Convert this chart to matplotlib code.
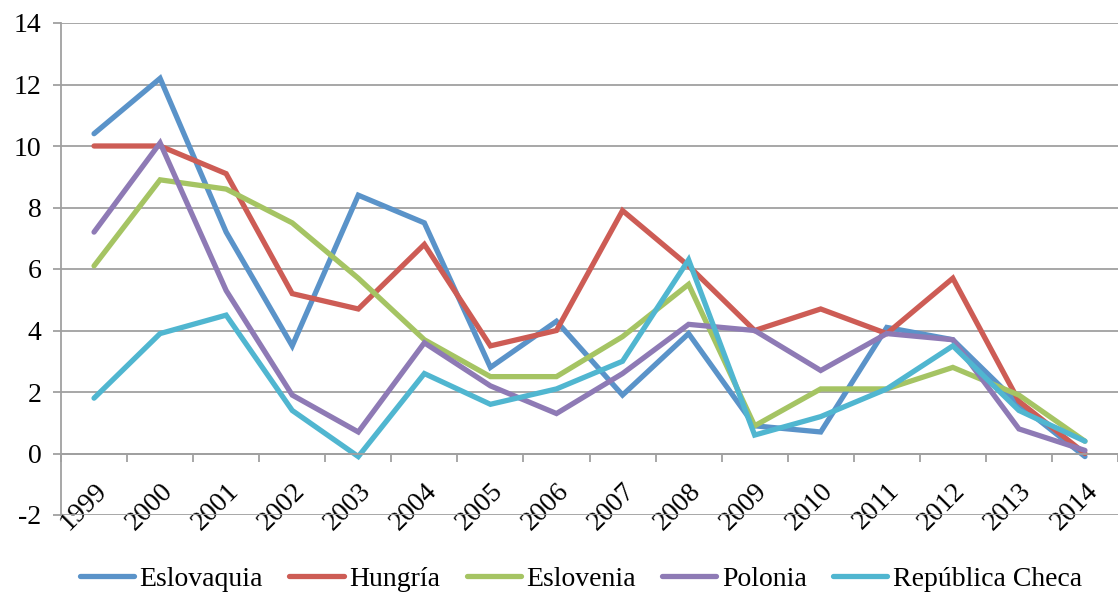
import numpy as np
import matplotlib.pyplot as plt

years = ['1999', '2000', '2001', '2002', '2003', '2004', '2005', '2006',
         '2007', '2008', '2009', '2010', '2011', '2012', '2013', '2014']

# valores
eslovaquia = [10.4, 12.2, 7.2, 3.5, 8.4, 7.5, 2.8, 4.3, 1.9, 3.9, 0.9, 0.7, 4.1, 3.7, 1.6, -0.1]
hungria = [10.0, 10.0, 9.1, 5.2, 4.7, 6.8, 3.5, 4.0, 7.9, 6.1, 4.0, 4.7, 3.9, 5.7, 1.7, 0.0]
eslovenia = [6.1, 8.9, 8.6, 7.5, 5.7, 3.7, 2.5, 2.5, 3.8, 5.5, 0.9, 2.1, 2.1, 2.8, 1.9, 0.4]
polonia = [7.2, 10.1, 5.3, 1.9, 0.7, 3.6, 2.2, 1.3, 2.6, 4.2, 4.0, 2.7, 3.9, 3.7, 0.8, 0.1]
rep_checa = [1.8, 3.9, 4.5, 1.4, -0.1, 2.6, 1.6, 2.1, 3.0, 6.3, 0.6, 1.2, 2.1, 3.5, 1.4, 0.4]

series = [('Eslovaquia', eslovaquia, '#5A93C9'),
          ('Hungría', hungria, '#CD5C55'),
          ('Eslovenia', eslovenia, '#A5C463'),
          ('Polonia', polonia, '#8E7AB5'),
          ('República Checa', rep_checa, '#50B6D0')]

plt.rcParams['font.family'] = ['Liberation Serif', 'DejaVu Serif']
plt.rcParams['axes.unicode_minus'] = False

fig = plt.figure(figsize=(11.18, 5.92), dpi=100)
ax = fig.add_axes([61 / 1118, 77 / 592, 1 - 61 / 1118, (569 - 77) / 592])

x = np.arange(len(years))
for name, vals, col in series:
    ax.plot(x, vals, color=col, lw=3.8, label=name, solid_joinstyle='miter',
            solid_capstyle='round')

grid_col = '#A0A0A0'
ax.set_ylim(-2, 14)
ax.set_yticks(np.arange(-2, 15, 2))
ax.set_xlim(-0.5, (1118 - 61) / 67 - 0.5)
ax.yaxis.grid(True, color=grid_col, lw=1.3)
ax.set_axisbelow(True)

for s in ['top', 'right']:
    ax.spines[s].set_visible(False)
ax.spines['left'].set_color(grid_col)
ax.spines['left'].set_linewidth(1.3)
ax.spines['bottom'].set_position(('data', 0))
ax.spines['bottom'].set_color(grid_col)
ax.spines['bottom'].set_linewidth(1.3)

ax.set_xticks(np.arange(-0.5, 16, 1))
ax.set_xticklabels([])
ax.set_xticks(x, minor=True)
ax.set_xticklabels(years, minor=True)
ax.tick_params(axis='x', which='major', length=6, width=1.3, color=grid_col)
ax.tick_params(axis='x', which='minor', length=0, pad=18, labelsize=20)
for lbl in ax.get_xticklabels(minor=True):
    lbl.set_rotation(45)
    lbl.set_ha('right')
    lbl.set_rotation_mode('anchor')
ax.tick_params(axis='y', length=6, width=1.3, color=grid_col, labelsize=20, pad=8)

ax.legend(loc='center', bbox_to_anchor=(581 / 1118, 13 / 592),
          bbox_transform=fig.transFigure, ncol=5, frameon=False, fontsize=20,
          handlelength=1.95, handletextpad=0.2, columnspacing=0.95)

fig.savefig('out.png', dpi=100)
